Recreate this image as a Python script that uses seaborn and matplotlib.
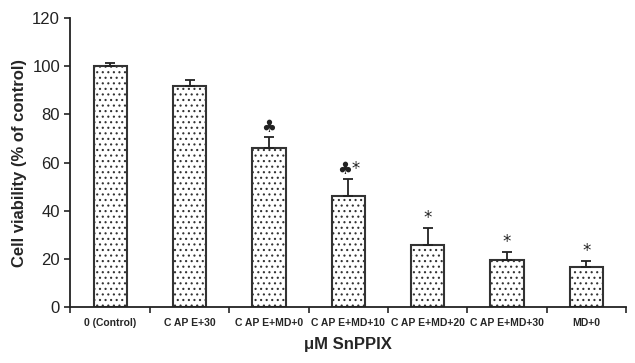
import matplotlib
matplotlib.use("Agg")
import matplotlib.pyplot as plt
import seaborn as sns
import pandas as pd
import numpy as np

categories = ["0 (Control)", "CAPE+30", "CAPE+MD+0", "CAPE+MD+10",
              "CAPE+MD+20", "CAPE+MD+30", "MD+0"]
tick_labels = ["0 (Control)", "C AP E+30", "C AP E+MD+0", "C AP E+MD+10",
               "C AP E+MD+20", "C AP E+MD+30", "MD+0"]
viability = [100.0, 91.7, 65.9, 46.0, 25.7, 19.5, 16.6]
sem = [1.2, 2.8, 4.7, 7.3, 7.1, 3.3, 2.5]
marks = ["", "", "\u2663", "\u2663*", "*", "*", "*"]

sns.set_theme(style="ticks")
plt.rcParams['font.family'] = ['Liberation Sans', 'DejaVu Sans']
plt.rcParams['hatch.linewidth'] = 0.8
plt.rcParams['hatch.color'] = '#555555'

df = pd.DataFrame({"cat": categories, "val": viability})

fig = plt.figure(figsize=(6.35, 3.63), dpi=100)
ax = fig.add_axes([0.111, 0.154, 0.875, 0.796])

sns.barplot(data=df, x="cat", y="val", ax=ax, color="white", width=0.42,
            edgecolor="#333333", linewidth=1.5, errorbar=None, hatch='...')

x = np.arange(len(categories))
ax.errorbar(x, viability, yerr=[np.zeros(len(sem)), sem], fmt='none',
            ecolor='#222222', elinewidth=1.3, capsize=3.5, capthick=1.3)

for xi, v, e, m in zip(x, viability, sem, marks):
    if m:
        ax.text(xi, v + e + 0.5, m, ha='center', va='bottom', fontsize=12,
                color='#222222', family=['DejaVu Sans'])

ax.set_ylim(0, 120)
ax.set_xlim(-0.5, len(categories) - 0.5)
ax.set_yticks([0, 20, 40, 60, 80, 100, 120])
ax.tick_params(axis='y', labelsize=12, length=4, width=1.2, colors='#222222')
ax.set_xticks(x)
ax.set_xticklabels(tick_labels, fontsize=7.5, fontweight='bold')
ax.tick_params(axis='x', length=0, pad=8)
ax.set_xticks(np.arange(len(categories) + 1) - 0.5, minor=True)
ax.tick_params(axis='x', which='minor', length=4, width=1.2)

sns.despine(ax=ax)
for s in ['left', 'bottom']:
    ax.spines[s].set_linewidth(1.3)
    ax.spines[s].set_color('#222222')

ax.set_ylabel("Cell viability (% of control)", fontsize=12, fontweight='bold')
ax.set_xlabel("\u03bcM SnPPIX", fontsize=12, fontweight='bold', labelpad=6)

fig.savefig("out.png", dpi=100)
